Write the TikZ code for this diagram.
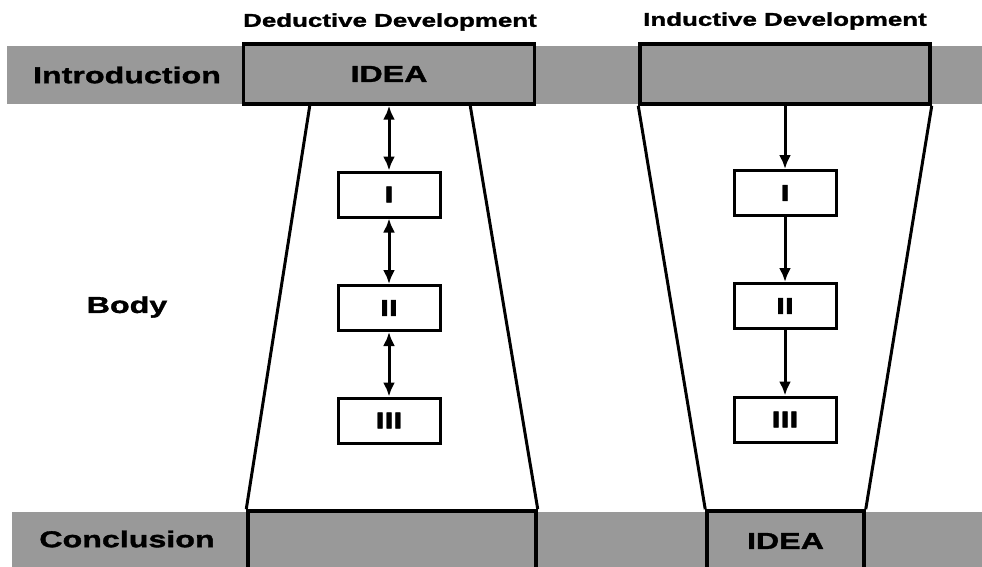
\documentclass[tikz,border=0pt]{standalone}
\usepackage{fontspec}
\newfontfamily\diagsans{Liberation Sans}[FakeStretch=1.4,FakeBold=1.5]
\usetikzlibrary{arrows.meta}
\tikzset{
band/.style={fill=black!40},
bandbox/.style={draw=black,fill=black!40,line width=3.5pt,minimum height=60pt,inner sep=0pt,
  font=\diagsans\bfseries\fontsize{23}{26}\selectfont},
partbox/.style={draw=black,fill=white,line width=3pt,minimum width=102pt,minimum height=45pt,
  inner sep=0pt,font=\diagsans\bfseries\fontsize{23}{26}\selectfont},
sidetext/.style={font=\diagsans\bfseries\fontsize{23}{26}\selectfont},
headtext/.style={font=\diagsans\bfseries\fontsize{18.5}{22}\selectfont},
side/.style={line width=3pt},
twoway/.style={line width=3pt,{Latex[length=14pt,width=12pt]}-{Latex[length=14pt,width=12pt]}},
oneway/.style={line width=3pt,-{Latex[length=14pt,width=12pt]}}
}
\begin{document}
\begin{tikzpicture}[x=1pt,y=-1pt]
\useasboundingbox (0,0) rectangle (982,567);
% the bands
\fill[band] (7,46) rectangle (982,104);
\fill[band] (12,512) rectangle (982,567);
\node[sidetext] (intro) at (127,75) {Introduction};
\node[sidetext] (body) at (127,307) {Body};
\node[sidetext] (concl) at (127,539) {Conclusion};
% deductive
\node[headtext] (dedhead) at (390,22) {Deductive Development};
\node[bandbox,minimum width=291pt] (dedidea) at (389,74) {IDEA};
\node[bandbox,minimum width=288pt] (dedconc) at (392,541) {};
\draw[side] ([xshift=68pt]dedidea.south west) -- (dedconc.north west);
\draw[side] ([xshift=-66pt]dedidea.south east) -- (dedconc.north east);
\node[partbox] (dedI) at (389,194.5) {I};
\node[partbox] (dedII) at (389,308) {II};
\node[partbox] (dedIII) at (389,420.5) {III};
\foreach \a/\b in {dedidea/dedI,dedI/dedII,dedII/dedIII}
{
  \draw[twoway] (\a) -- (\b);
}
% inductive
\node[headtext] (indhead) at (785,21) {Inductive Development};
\node[bandbox,minimum width=290pt] (indtop) at (785,74) {};
\node[bandbox,minimum width=157pt] (indidea) at (785.5,541) {IDEA};
\draw[side] (indtop.south west) -- (indidea.north west);
\draw[side] (indtop.south east) -- (indidea.north east);
\node[partbox] (indI) at (785,193) {I};
\node[partbox] (indII) at (785,306) {II};
\node[partbox] (indIII) at (785,419.5) {III};
\foreach \a/\b in {indtop/indI,indI/indII,indII/indIII}
{
  \draw[oneway] (\a) -- (\b);
}
\end{tikzpicture}
\end{document}
